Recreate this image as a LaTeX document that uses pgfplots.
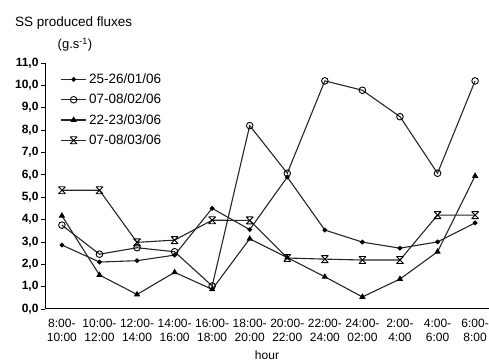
\documentclass[border=0pt]{standalone}
\usepackage{fontspec}
\setmainfont{Liberation Sans}
\usepackage{pgfplots}
\pgfplotsset{compat=1.18}
\pgfdeclareplotmark{hourglass}{%
  \pgfpathmoveto{\pgfqpoint{-\pgfplotmarksize}{-\pgfplotmarksize}}%
  \pgfpathlineto{\pgfqpoint{\pgfplotmarksize}{\pgfplotmarksize}}%
  \pgfpathmoveto{\pgfqpoint{-\pgfplotmarksize}{\pgfplotmarksize}}%
  \pgfpathlineto{\pgfqpoint{\pgfplotmarksize}{-\pgfplotmarksize}}%
  \pgfpathmoveto{\pgfqpoint{-\pgfplotmarksize}{\pgfplotmarksize}}%
  \pgfpathlineto{\pgfqpoint{\pgfplotmarksize}{\pgfplotmarksize}}%
  \pgfpathmoveto{\pgfqpoint{-\pgfplotmarksize}{-\pgfplotmarksize}}%
  \pgfpathlineto{\pgfqpoint{\pgfplotmarksize}{-\pgfplotmarksize}}%
  \pgfusepathqstroke}
\begin{document}
\begin{tikzpicture}
\begin{axis}[
  at={(0pt,0pt)}, anchor=south west,
  scale only axis, width=444pt, height=246pt,
  axis lines=left, axis line style={-, line width=1pt, black},
  xmin=-0.45, xmax=11.37, ymin=0, ymax=11,
  ytick={0,1,...,11},
  tick align=outside,
  major tick length=4pt,
  tick style={black, line width=0.8pt},
  yticklabel style={font=\fontsize{12}{14}\selectfont\bfseries, xshift=1pt},
  /pgf/number format/.cd, fixed, fixed zerofill, precision=1, use comma, assume math mode=true,
  /pgfplots/.cd,
  xtick={0,...,11},
  xticklabels={{8:00-\\10:00},{10:00-\\12:00},{12:00-\\14:00},{14:00-\\16:00},{16:00-\\18:00},{18:00-\\20:00},{20:00-\\22:00},{22:00-\\24:00},{24:00-\\02:00},{2:00-\\4:00},{4:00-\\6:00},{6:00-\\8:00}},
  x tick style={draw=none},
  minor xtick={0.5,1.5,...,10.5},
  minor tick length=4pt,
  xticklabel style={align=center, font=\fontsize{12}{14}\selectfont, yshift=-3pt},
  xlabel={hour},
  xlabel style={font=\fontsize{12}{14}\selectfont, yshift=-2pt},
  legend style={at={(0.034,0.965)}, anchor=north west, draw=none, fill=none,
    font=\fontsize{13.5}{15}\selectfont, row sep=5pt, inner sep=0pt},
  legend cell align=left,
  legend image code/.code={\draw[mark repeat=2,mark phase=2] plot coordinates {(0cm,0cm) (0.45cm,0cm) (0.9cm,0cm)};},
  every axis plot/.append style={line width=1.1pt, draw=black!85},
]
\addplot[mark=*, mark size=1.8pt, mark options={fill=black, draw=black}] coordinates {
(0,2.86) (1,2.10) (2,2.16) (3,2.41) (4,4.50) (5,3.55) (6,5.90) (7,3.53) (8,2.99) (9,2.72) (10,3.00) (11,3.85)};
\addlegendentry{25-26/01/06}
\addplot[mark=o, mark size=3.3pt, mark options={fill=white, draw=black, line width=0.9pt}] coordinates {
(0,3.75) (1,2.45) (2,2.74) (3,2.56) (4,1.03) (5,8.20) (6,6.07) (7,10.20) (8,9.78) (9,8.60) (10,6.07) (11,10.20)};
\addlegendentry{07-08/02/06}
\addplot[mark=triangle*, mark size=2.6pt, mark options={fill=black, draw=black}] coordinates {
(0,4.17) (1,1.52) (2,0.65) (3,1.64) (4,0.88) (5,3.14) (6,2.30) (7,1.44) (8,0.54) (9,1.34) (10,2.56) (11,5.95)};
\addlegendentry{22-23/03/06}
\addplot[mark=hourglass, mark size=3.5pt, mark options={draw=black, line width=0.9pt}] coordinates {
(0,5.31) (1,5.31) (2,2.98) (3,3.08) (4,3.97) (5,3.96) (6,2.28) (7,2.23) (8,2.19) (9,2.19) (10,4.20) (11,4.20)};
\addlegendentry{07-08/03/06}
\end{axis}
\node[anchor=west, font=\fontsize{13.5}{15}\selectfont, inner sep=0pt] at (-30pt,286pt) {SS produced fluxes};
\node[font=\fontsize{13}{15}\selectfont, inner sep=0pt] at (30pt,264pt) {(g.s\textsuperscript{-1})};
\pgfresetboundingbox
\path (-45pt,-54pt) rectangle (444pt,309pt);
\end{tikzpicture}
\end{document}
